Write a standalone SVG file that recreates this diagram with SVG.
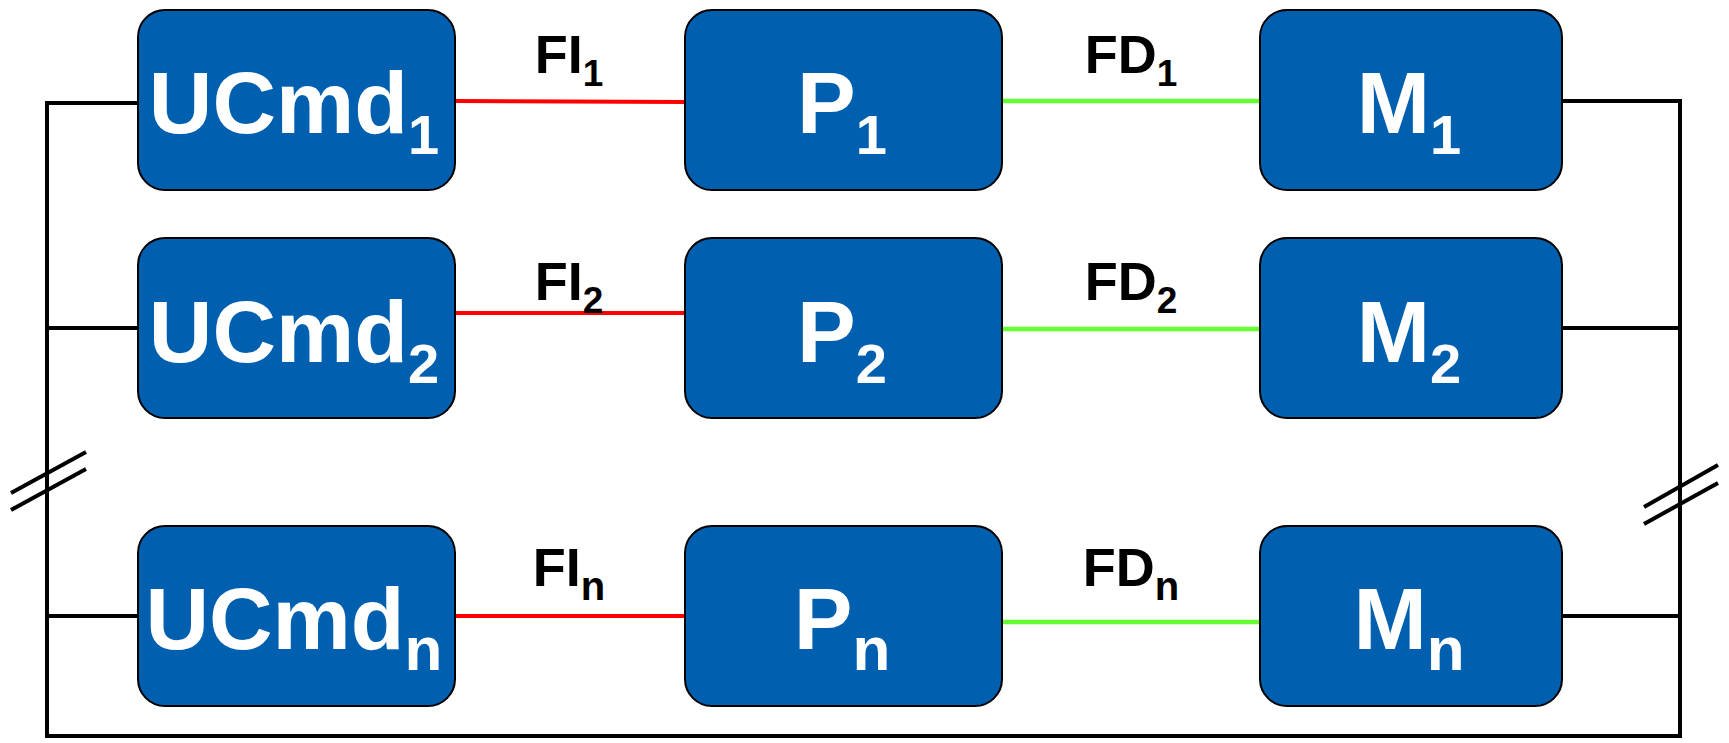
<svg xmlns="http://www.w3.org/2000/svg" width="1729" height="743" viewBox="0 0 1729 743">
<style>
.box{fill:#005FAF;stroke:#000;stroke-width:2}
.t{font-family:"Liberation Sans",Arial,sans-serif;font-weight:bold;fill:#fff;font-size:88px;text-anchor:middle}
.s{font-size:56px}
.sn{font-size:62px}
.l{font-family:"Liberation Sans",Arial,sans-serif;font-weight:bold;fill:#000;font-size:54px;text-anchor:middle}
.ls{font-size:37px}
.lsn{font-size:40px}
.bus{fill:none;stroke:#000;stroke-width:4}
.red{stroke:#FF0000;stroke-width:4}
.grn{stroke:#66FF33;stroke-width:4.5}
</style>
<rect width="1729" height="743" fill="#fff"/>
<g id="connectors">
<path class="bus" d="M138 103 H47 V736 H1680 V101 H1562"/>
<line class="bus" x1="47" y1="328" x2="138" y2="328"/>
<line class="bus" x1="47" y1="616" x2="138" y2="616"/>
<line class="bus" x1="1562" y1="328" x2="1680" y2="328"/>
<line class="bus" x1="1562" y1="616" x2="1680" y2="616"/>
<line class="red" x1="455" y1="101" x2="685" y2="102"/>
<line class="red" x1="455" y1="313" x2="685" y2="313"/>
<line class="red" x1="455" y1="616" x2="685" y2="616"/>
<line class="grn" x1="1002" y1="101" x2="1260" y2="101"/>
<line class="grn" x1="1002" y1="329" x2="1260" y2="329"/>
<line class="grn" x1="1002" y1="622" x2="1260" y2="622"/>
<g class="bus" stroke-width="4.5">
<line x1="11" y1="493" x2="86" y2="452"/>
<line x1="11" y1="510" x2="86" y2="469"/>
<line x1="1644" y1="507" x2="1718" y2="465"/>
<line x1="1644" y1="524" x2="1718" y2="483"/>
</g>
<text class="l" x="569" y="73">FI<tspan class="ls" dy="13">1</tspan></text>
<text class="l" x="569" y="300">FI<tspan class="ls" dy="13">2</tspan></text>
<text class="l" x="569" y="586">FI<tspan class="lsn" dy="14">n</tspan></text>
<text class="l" x="1131" y="73">FD<tspan class="ls" dy="13">1</tspan></text>
<text class="l" x="1131" y="300">FD<tspan class="ls" dy="13">2</tspan></text>
<text class="l" x="1131" y="586">FD<tspan class="lsn" dy="14">n</tspan></text>
</g>
<g id="ucmd1"><rect class="box" x="138" y="10" width="317" height="180" rx="27"/><text class="t" x="294" y="133">UCmd<tspan class="s" dy="21">1</tspan></text></g>
<g id="p1"><rect class="box" x="685" y="10" width="317" height="180" rx="27"/><text class="t" x="842" y="133">P<tspan class="s" dy="21">1</tspan></text></g>
<g id="m1"><rect class="box" x="1260" y="10" width="302" height="180" rx="27"/><text class="t" x="1409" y="133">M<tspan class="s" dy="21">1</tspan></text></g>
<g id="ucmd2"><rect class="box" x="138" y="238" width="317" height="180" rx="27"/><text class="t" x="294" y="362">UCmd<tspan class="s" dy="21">2</tspan></text></g>
<g id="p2"><rect class="box" x="685" y="238" width="317" height="180" rx="27"/><text class="t" x="842" y="362">P<tspan class="s" dy="21">2</tspan></text></g>
<g id="m2"><rect class="box" x="1260" y="238" width="302" height="180" rx="27"/><text class="t" x="1409" y="362">M<tspan class="s" dy="21">2</tspan></text></g>
<g id="ucmdn"><rect class="box" x="138" y="526" width="317" height="180" rx="27"/><text class="t" x="294" y="649">UCmd<tspan class="sn" dy="21">n</tspan></text></g>
<g id="pn"><rect class="box" x="685" y="526" width="317" height="180" rx="27"/><text class="t" x="842" y="649">P<tspan class="sn" dy="21">n</tspan></text></g>
<g id="mn"><rect class="box" x="1260" y="526" width="302" height="180" rx="27"/><text class="t" x="1409" y="649">M<tspan class="sn" dy="21">n</tspan></text></g>
</svg>
